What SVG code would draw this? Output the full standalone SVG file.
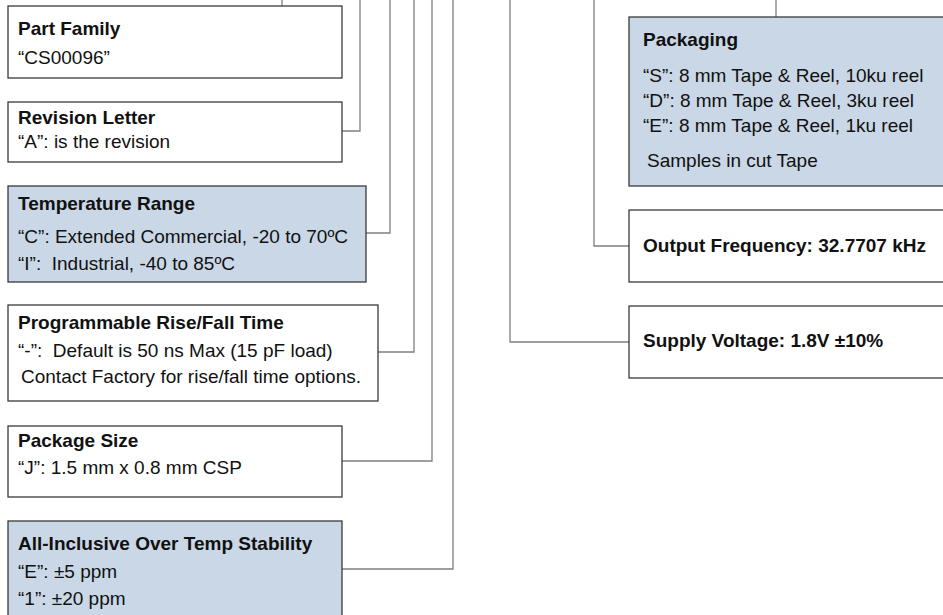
<svg xmlns="http://www.w3.org/2000/svg" width="943" height="615" viewBox="0 0 943 615">
<style>
.box{stroke:#3a3a3a;stroke-width:1.3}
.w{fill:#ffffff}
.b{fill:#c9d7e6}
.t{font-family:"Liberation Sans",Arial,sans-serif;font-size:19px;fill:#111}
.h{font-weight:bold}
.c{fill:none;stroke:#7f7f7f;stroke-width:1.3}
</style>
<rect width="943" height="615" fill="#ffffff"/>
<g id="connectors">
<path class="c" d="M282,0 V6"/>
<path class="c" d="M342,131 H360 V0"/>
<path class="c" d="M366,233 H390 V0"/>
<path class="c" d="M378,352 H414 V0"/>
<path class="c" d="M342,461 H432 V0"/>
<path class="c" d="M342,569 H453 V0"/>
<path class="c" d="M776,0 V17"/>
<path class="c" d="M629,246 H594 V0"/>
<path class="c" d="M629,342 H510 V0"/>
</g>
<g id="part-family">
<rect class="box w" x="8" y="6" width="334" height="72"/>
<text class="t h" x="18" y="35">Part Family</text>
<text class="t" x="18" y="64">“CS00096”</text>
</g>
<g id="revision-letter">
<rect class="box w" x="8" y="102" width="334" height="60"/>
<text class="t h" x="18" y="124">Revision Letter</text>
<text class="t" x="18" y="148">“A”: is the revision</text>
</g>
<g id="temperature-range">
<rect class="box b" x="8" y="186" width="358" height="96"/>
<text class="t h" x="18" y="210">Temperature Range</text>
<text class="t" x="18" y="243">“C”: Extended Commercial, -20 to 70ºC</text>
<text class="t" x="18" y="270" xml:space="preserve">“I”:  Industrial, -40 to 85ºC</text>
</g>
<g id="rise-fall-time">
<rect class="box w" x="8" y="305" width="370" height="96"/>
<text class="t h" x="18" y="329">Programmable Rise/Fall Time</text>
<text class="t" x="18" y="357" xml:space="preserve">“-”:  Default is 50 ns Max (15 pF load)</text>
<text class="t" x="21" y="383">Contact Factory for rise/fall time options.</text>
</g>
<g id="package-size">
<rect class="box w" x="8" y="426" width="334" height="71"/>
<text class="t h" x="18" y="447">Package Size</text>
<text class="t" x="18" y="474">“J”: 1.5 mm x 0.8 mm CSP</text>
</g>
<g id="stability">
<rect class="box b" x="8" y="521" width="334" height="110"/>
<text class="t h" x="18" y="550">All-Inclusive Over Temp Stability</text>
<text class="t" x="18" y="578">“E”: ±5 ppm</text>
<text class="t" x="18" y="605">“1”: ±20 ppm</text>
</g>
<g id="packaging">
<rect class="box b" x="629" y="17" width="330" height="169"/>
<text class="t h" x="643" y="46">Packaging</text>
<text class="t" x="643" y="82">“S”: 8 mm Tape &amp; Reel, 10ku reel</text>
<text class="t" x="643" y="107">“D”: 8 mm Tape &amp; Reel, 3ku reel</text>
<text class="t" x="643" y="132">“E”: 8 mm Tape &amp; Reel, 1ku reel</text>
<text class="t" x="647" y="167">Samples in cut Tape</text>
</g>
<g id="output-frequency">
<rect class="box w" x="629" y="210" width="330" height="72"/>
<text class="t h" x="643" y="252">Output Frequency: 32.7707 kHz</text>
</g>
<g id="supply-voltage">
<rect class="box w" x="629" y="306" width="330" height="72"/>
<text class="t h" x="643" y="347">Supply Voltage: 1.8V ±10%</text>
</g>
</svg>
